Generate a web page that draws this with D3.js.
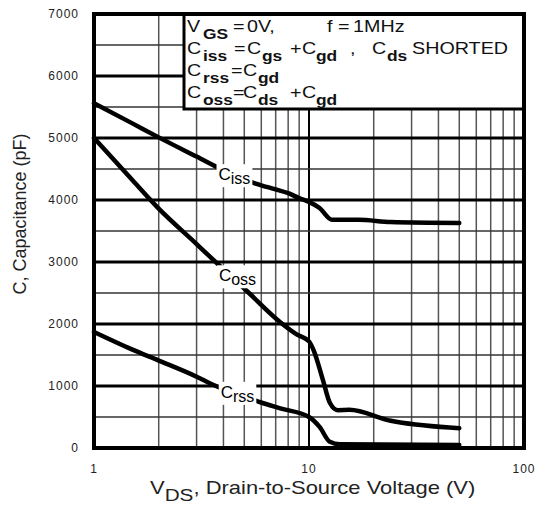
<!DOCTYPE html>
<html><head><meta charset="utf-8">
<script src="https://cdn.jsdelivr.net/npm/d3@7"></script>
<style>
body{margin:0;background:#fff;}
svg{display:block;}
</style></head>
<body><svg id="c" width="539" height="518"></svg>
<script>
const xTicks = [1, 10, 100];
const yTicks = [0, 1000, 2000, 3000, 4000, 5000, 6000, 7000];
const ciss = [[1,5560],[1.5,5240],[2,5010],[3,4700],[4,4480],[5.6,4270],[7,4170],[8,4110],[9,4030],[10,3970],[11.2,3870],[12.8,3680],[17,3680],[24,3645],[50,3630]];
const coss = [[1,5000],[1.5,4330],[2,3860],[3,3290],[3.6,3030],[5.2,2516],[7.35,2030],[8.8,1830],[10,1720],[10.5,1580],[11.6,1100],[12.5,730],[13.6,610],[15.4,615],[24,440],[45,330],[50,320]];
const crss = [[1,1870],[1.5,1590],[2,1410],[3,1150],[3.6,1016],[5.9,742],[7.35,640],[10,500],[11.2,340],[12.5,100],[13.9,60],[50,50]];
const curveLabels = [
  {name:"C", sub:"iss", x:4.5, y:4400},
  {name:"C", sub:"oss", x:4.65, y:2770},
  {name:"C", sub:"rss", x:4.65, y:890}
];
// legend pieces: [text, isSubscript, left x]
const legendLines = [
  [["V",0,187],["GS",1,203],["=",0,233],["0V,",0,247],["f",0,327],["=",0,338],["1MHz",0,353]],
  [["C",0,187],["iss",1,203],["=",0,234],["C",0,247],["gs",1,262],["+",0,290],["C",0,302],["gd",1,316],[",",0,350],["C",0,372],["ds",1,387],["SHORTED",0,412]],
  [["C",0,187],["rss",1,203],["=",0,231],["C",0,243],["gd",1,258]],
  [["C",0,187],["oss",1,203],["=",0,233],["C",0,243],["ds",1,258],["+",0,290],["C",0,302],["gd",1,316]]
];
const baselines = [32, 54, 76, 98];

const svg = d3.select("#c");
const L = 94, R = 524, T = 14, B = 448;
const x = d3.scaleLog().domain([1,100]).range([L,R]);
const y = d3.scaleLinear().domain([0,7000]).range([B,T]);
const font = "'Liberation Sans', Arial, sans-serif";
const narrow = "'Liberation Sans Narrow', 'Arial Narrow', 'Liberation Sans', sans-serif";

const g = svg.append("g");
const minorX = [];
for (let d = 1; d < 100; d *= 10) for (let k = 2; k <= 9; k++) minorX.push(d*k);
g.selectAll(".vx").data(minorX).join("line")
  .attr("x1", d=>x(d)).attr("x2", d=>x(d)).attr("y1", T).attr("y2", B)
  .attr("stroke", "#555").attr("stroke-width", 1.5);
g.append("line").attr("x1", x(10)).attr("x2", x(10)).attr("y1", T).attr("y2", B)
  .attr("stroke", "#000").attr("stroke-width", 2);
const halfY = d3.range(500, 7000, 1000);
g.selectAll(".hy").data(halfY).join("line")
  .attr("x1", L).attr("x2", R).attr("y1", d=>y(d)).attr("y2", d=>y(d))
  .attr("stroke", "#333").attr("stroke-width", 1.5);
g.selectAll(".hY").data(yTicks.slice(1,-1)).join("line")
  .attr("x1", L).attr("x2", R).attr("y1", d=>y(d)).attr("y2", d=>y(d))
  .attr("stroke", "#000").attr("stroke-width", 3);

const line = d3.line().x(d=>x(d[0])).y(d=>y(d[1])).curve(d3.curveMonotoneX);
[ciss, coss, crss].forEach(s => {
  svg.append("path").datum(s).attr("d", line).attr("fill","none")
    .attr("stroke","#000").attr("stroke-width",4.5).attr("stroke-linejoin","round").attr("stroke-linecap","round");
});

curveLabels.forEach(lb => {
  const lg = svg.append("g");
  const t = lg.append("text").attr("x", x(lb.x)).attr("y", y(lb.y)+5)
    .attr("text-anchor","middle").attr("font-family", font).attr("font-size", 17);
  t.append("tspan").text(lb.name);
  t.append("tspan").attr("dy", 4).attr("font-size", 16).text(lb.sub);
  const bb = t.node().getBBox();
  lg.insert("rect","text").attr("x", bb.x-2).attr("y", bb.y-1).attr("width", bb.width+4).attr("height", bb.height+1).attr("fill","#fff");
});

const lx = 184, ly = 14, lw = R - lx, lh = 95;
svg.append("rect").attr("x", lx).attr("y", ly).attr("width", lw).attr("height", lh)
  .attr("fill","#fff").attr("stroke","#000").attr("stroke-width",3);
legendLines.forEach((parts, i) => {
  parts.forEach(p => {
    svg.append("text")
      .attr("transform", `translate(${p[2]},${baselines[i] + (p[1] ? 7 : 0)}) scale(1.16,1)`)
      .attr("font-family", font)
      .attr("font-size", p[1] ? 15 : 17)
      .attr("font-weight", p[1] ? "bold" : "normal")
      .attr("fill", "#111")
      .text(p[0]);
  });
});

svg.append("rect").attr("x", L).attr("y", T).attr("width", R-L).attr("height", B-T)
  .attr("fill","none").attr("stroke","#000").attr("stroke-width",4);

svg.selectAll(".yt").data(yTicks).join("text")
  .attr("x", 79).attr("y", d=>y(d)+4).attr("text-anchor","end")
  .attr("font-family", narrow).attr("font-size", 12).attr("letter-spacing", 1).attr("fill","#222")
  .text(d=>d);
svg.selectAll(".xt").data(xTicks).join("text")
  .attr("x", d=>x(d)).attr("y", 473).attr("text-anchor","middle")
  .attr("font-family", narrow).attr("font-size", 12).attr("letter-spacing", 1).attr("fill","#222")
  .text(d=>d);

const xt = svg.append("text").attr("transform","translate(150,494) scale(1.22,1)")
  .attr("font-family", font).attr("font-size", 18).attr("fill","#222");
xt.append("tspan").text("V");
xt.append("tspan").attr("dy", 7).attr("font-size", 17).text("DS");
xt.append("tspan").attr("dy", -7).text(", Drain-to-Source Voltage (V)");
svg.append("text").attr("transform","translate(26,214) rotate(-90)").attr("text-anchor","middle")
  .attr("font-family", font).attr("font-size", 18).attr("fill","#222").text("C, Capacitance (pF)");
</script></body></html>
